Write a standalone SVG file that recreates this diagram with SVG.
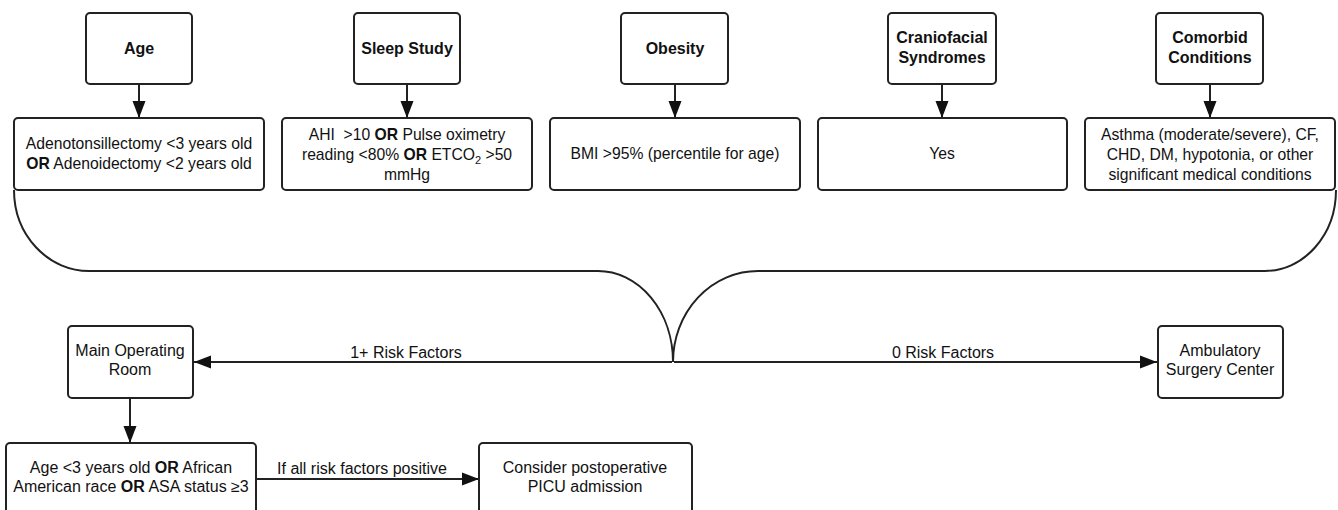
<svg xmlns="http://www.w3.org/2000/svg" width="1338" height="510" viewBox="0 0 1338 510">
<style>
.box{fill:#fff;stroke:#222;stroke-width:2}
.ln{fill:none;stroke:#222;stroke-width:2}
text{font-family:"Liberation Sans",Arial,sans-serif;font-size:16px;fill:#111;text-anchor:middle}
.t{font-weight:bold;font-size:16px}
.m{font-size:15.7px}
.b{font-weight:bold}
.pre{white-space:pre}
</style>
<defs>
<marker id="ah" markerUnits="userSpaceOnUse" markerWidth="17" markerHeight="14" refX="17" refY="7" orient="auto">
<path d="M0,0.5 L17,7 L0,13.5 Z" fill="#111"/>
</marker>
</defs>
<rect width="1338" height="510" fill="#fff"/>

<g id="connectors">
<line class="ln" x1="139" y1="84" x2="139" y2="118" marker-end="url(#ah)"/>
<line class="ln" x1="407" y1="84" x2="407" y2="118" marker-end="url(#ah)"/>
<line class="ln" x1="675" y1="84" x2="675" y2="118" marker-end="url(#ah)"/>
<line class="ln" x1="942" y1="84" x2="942" y2="118" marker-end="url(#ah)"/>
<line class="ln" x1="1210" y1="84" x2="1210" y2="118" marker-end="url(#ah)"/>
<path class="ln" d="M14,190 A75,81 0 0 0 89,271 L598,271 A75,91 0 0 1 673,362"/>
<path class="ln" d="M1336,190 A71,81 0 0 1 1265,271 L758,271 A85,91 0 0 0 673,362"/>
<line class="ln" x1="672" y1="362" x2="194" y2="362" marker-end="url(#ah)"/>
<line class="ln" x1="674" y1="362" x2="1157" y2="362" marker-end="url(#ah)"/>
<text x="406" y="358">1+ Risk Factors</text>
<text x="943" y="358">0 Risk Factors</text>
<line class="ln" x1="130" y1="398" x2="130" y2="443" marker-end="url(#ah)"/>
<line class="ln" x1="256" y1="479" x2="479" y2="479" marker-end="url(#ah)"/>
<text x="362" y="474">If all risk factors positive</text>
</g>

<g id="age"><rect class="box" x="86" y="13" width="106" height="71" rx="4"/><text class="t" x="139" y="54">Age</text></g>
<g id="sleep"><rect class="box" x="354" y="13" width="106" height="71" rx="4"/><text class="t" x="407" y="54">Sleep Study</text></g>
<g id="obesity"><rect class="box" x="621" y="13" width="107" height="71" rx="4"/><text class="t" x="675" y="54">Obesity</text></g>
<g id="cranio"><rect class="box" x="888" y="13" width="108" height="71" rx="4"/><text class="t" x="942" y="43">Craniofacial</text><text class="t" x="942" y="63">Syndromes</text></g>
<g id="comorbid"><rect class="box" x="1156" y="13" width="107" height="71" rx="4"/><text class="t" x="1210" y="43">Comorbid</text><text class="t" x="1210" y="63">Conditions</text></g>

<g id="age-crit"><rect class="box" x="14" y="118" width="250" height="72" rx="4"/><text class="m" x="139" y="149">Adenotonsillectomy &lt;3 years old</text><text class="m" x="139" y="169"><tspan class="b">OR</tspan> Adenoidectomy &lt;2 years old</text></g>
<g id="sleep-crit"><rect class="box" x="282" y="118" width="250" height="72" rx="4"/><text class="m pre" xml:space="preserve" x="407" y="140">AHI  &gt;10 <tspan class="b">OR</tspan> Pulse oximetry</text><text class="m" x="407" y="160">reading &lt;80% <tspan class="b">OR</tspan> ETCO<tspan font-size="11" dy="4">2</tspan><tspan dy="-4"> &gt;50</tspan></text><text class="m" x="407" y="180">mmHg</text></g>
<g id="obesity-crit"><rect class="box" x="550" y="118" width="250" height="72" rx="4"/><text class="m" x="675" y="159">BMI &gt;95% (percentile for age)</text></g>
<g id="cranio-crit"><rect class="box" x="818" y="118" width="249" height="72" rx="4"/><text class="m" x="942" y="159">Yes</text></g>
<g id="comorbid-crit"><rect class="box" x="1085" y="118" width="250" height="72" rx="4"/><text class="m" x="1210" y="140">Asthma (moderate/severe), CF,</text><text class="m" x="1210" y="160">CHD, DM, hypotonia, or other</text><text class="m" x="1210" y="180">significant medical conditions</text></g>

<g id="main-or"><rect class="box" x="68" y="326" width="125" height="72" rx="4"/><text x="130" y="356">Main Operating</text><text x="130" y="375">Room</text></g>
<g id="asc"><rect class="box" x="1158" y="326" width="125" height="72" rx="4"/><text x="1220" y="356">Ambulatory</text><text x="1220" y="375">Surgery Center</text></g>
<g id="risk"><rect class="box" x="6" y="443" width="250" height="80" rx="4"/><text x="131" y="473">Age &lt;3 years old <tspan class="b">OR</tspan> African</text><text x="131" y="492">American race <tspan class="b">OR</tspan> ASA status ≥3</text></g>
<g id="picu"><rect class="box" x="479" y="443" width="213" height="80" rx="4"/><text x="585" y="473">Consider postoperative</text><text x="585" y="492">PICU admission</text></g>
</svg>
